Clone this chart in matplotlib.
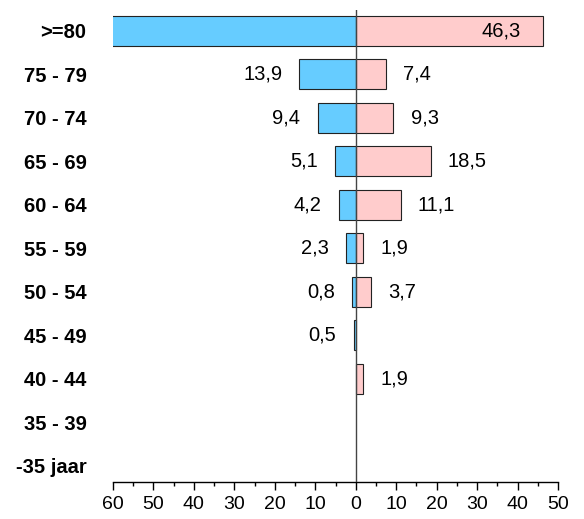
import matplotlib
matplotlib.use("Agg")
import matplotlib.pyplot as plt
from matplotlib.ticker import MultipleLocator, FuncFormatter

ageGroups = [">=80", "75 - 79", "70 - 74", "65 - 69", "60 - 64", "55 - 59",
             "50 - 54", "45 - 49", "40 - 44", "35 - 39", "-35 jaar"]
mannen = [60.5, 13.9, 9.4, 5.1, 4.2, 2.3, 0.8, 0.5, 0.0, 0.0, 0.0]
vrouwen = [46.3, 7.4, 9.3, 18.5, 11.1, 1.9, 3.7, 0.0, 1.9, 0.0, 0.0]

X_MIN, X_MAX = -60, 50

plt.rcParams["font.family"] = ["Liberation Sans", "DejaVu Sans"]


def fmt(v: float) -> str:
    return f"{v:.1f}".replace(".", ",")


def main() -> None:
    fig = plt.figure(figsize=(5.84, 5.19), dpi=100)
    ax = fig.add_axes([113 / 584, 1 - 482 / 519, 445 / 584, 472 / 519])

    ys = list(range(len(ageGroups)))
    h = 0.69
    fs = 14.5

    for y, m, w in zip(ys, mannen, vrouwen):
        if m > 0:
            ax.barh(y, -m, height=h, color="#66CCFF", edgecolor="#222222", linewidth=0.8, zorder=2)
            if m <= -X_MIN:
                ax.annotate(fmt(m), (-m, y), xytext=(-12.5, 0), textcoords="offset points",
                            ha="right", va="center", fontsize=fs)
        if w > 0:
            ax.barh(y, w, height=h, color="#FFCCCC", edgecolor="#222222", linewidth=0.8, zorder=2)
            if w > 40:
                ax.annotate(fmt(w), (w, y), xytext=(-16, 0), textcoords="offset points",
                            ha="right", va="center", fontsize=fs)
            else:
                ax.annotate(fmt(w), (w, y), xytext=(12.5, 0), textcoords="offset points",
                            ha="left", va="center", fontsize=fs)

    ax.axvline(0, color="#444444", linewidth=1, zorder=3)

    ax.set_xlim(X_MIN, X_MAX)
    ax.set_ylim(10.37, -0.48)
    ax.set_yticks(ys)
    ax.set_yticklabels(ageGroups, fontsize=fs, fontweight="bold")
    ax.tick_params(axis="y", length=0, pad=19)

    ax.xaxis.set_major_locator(MultipleLocator(10))
    ax.xaxis.set_minor_locator(MultipleLocator(5))
    ax.xaxis.set_major_formatter(FuncFormatter(lambda v, p: f"{abs(v):.0f}"))
    ax.tick_params(axis="x", which="major", length=6, width=1, labelsize=14, pad=4)
    ax.tick_params(axis="x", which="minor", length=3, width=1)

    for side in ("left", "right", "top"):
        ax.spines[side].set_visible(False)
    ax.spines["bottom"].set_linewidth(1)

    fig.savefig("out.png", dpi=100)


if __name__ == "__main__":
    main()
